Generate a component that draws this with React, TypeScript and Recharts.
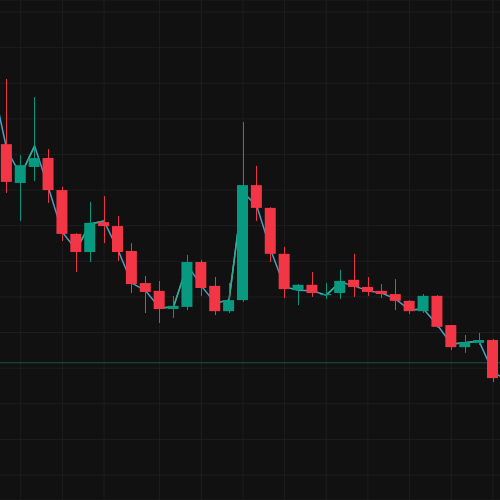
import React from "react";
import {
  ComposedChart,
  Bar,
  Line,
  XAxis,
  YAxis,
  CartesianGrid,
  ReferenceLine,
} from "recharts";

// one hidden slot on each side so the line runs off the edges
const slots = Array.from({ length: 38 }, (_, i) => `t${i}`);

// OHLC per candle (slot 1..36)
const opens = [19.29, 18.2, 18.65, 18.9, 18.0, 16.77, 16.26, 17.1, 16.99, 16.29, 15.39, 15.17, 14.66, 14.72, 15.98, 15.31, 14.6, 14.91, 18.14, 17.5, 16.21, 15.19, 15.34, 15.05, 15.11, 15.48, 15.28, 15.17, 15.08, 14.89, 14.6, 15.03, 14.21, 13.59, 13.71, 13.79];
const closes = [18.23, 18.7, 18.9, 18.0, 16.77, 16.26, 17.08, 16.99, 16.26, 15.36, 15.14, 14.66, 14.75, 15.98, 15.25, 14.6, 14.91, 18.14, 17.5, 16.21, 15.22, 15.34, 15.11, 15.08, 15.45, 15.28, 15.14, 15.08, 14.89, 14.6, 15.03, 14.16, 13.59, 13.73, 13.79, 12.72];
const highs = [21.12, 18.98, 20.61, 19.15, 18.09, 16.79, 17.67, 17.83, 17.27, 16.51, 15.59, 15.45, 15.03, 16.18, 16.04, 15.56, 15.39, 19.91, 18.68, 17.52, 16.4, 15.36, 15.7, 15.39, 15.76, 16.21, 15.56, 15.36, 15.5, 14.91, 15.08, 15.05, 14.21, 13.93, 13.99, 13.82];
const lows = [17.92, 17.13, 18.25, 17.64, 16.57, 15.7, 15.98, 16.51, 16.01, 15.11, 14.55, 14.27, 14.41, 14.63, 15.03, 14.49, 14.55, 14.86, 17.13, 15.98, 14.97, 14.77, 15.0, 14.94, 14.94, 15.0, 15.03, 14.97, 14.63, 14.52, 14.55, 14.13, 13.51, 13.43, 13.65, 12.61];

// price line, all 38 slots
const linePrices = [20.95, 19.13, 18.42, 19.24, 18.06, 16.82, 16.32, 17.05, 17.13, 16.32, 15.39, 15.17, 14.69, 14.72, 15.9, 15.31, 14.83, 14.91, 17.95, 17.55, 16.32, 15.28, 15.19, 15.17, 15.05, 15.42, 15.31, 15.17, 15.11, 14.94, 14.63, 14.66, 14.21, 13.68, 13.71, 13.76, 12.89, 12.67];

const priceTicks = [10, 11, 12, 13, 14, 15, 16, 17, 18, 19, 20, 21, 22, 23];
const gridSlots = ["t2", "t5", "t8", "t12", "t15", "t18", "t21", "t24", "t27", "t30", "t33", "t36"];
const basePrice = 13.15;

const RED = "#f23645";
const GREEN = "#089981";
const LINE_DOWN = "#4f9dc2";
const LINE_UP = "#35ab8c";

const data = slots.map((t, i) => {
  const row: any = { t, price: linePrices[i] };
  const k = i - 1;
  if (k >= 0 && k < opens.length) {
    row.open = opens[k];
    row.close = closes[k];
    row.high = highs[k];
    row.low = lows[k];
  }
  return row;
});

// rising stretches get their own colour, split in 3 series so they never join up
linePrices.forEach((p, i) => {
  if (i + 1 < linePrices.length && linePrices[i + 1] > p) {
    const key = `up${i % 3}`;
    data[i][key] = p;
    data[i + 1][key] = linePrices[i + 1];
  }
});

const Candle = (props: any) => {
  const { x, y, width, height, payload } = props;
  if (!payload || payload.open == null) return null;
  const { open, close, high, low } = payload;
  const color = close >= open ? GREEN : RED;
  const top = Math.min(y, y + height);
  const h = Math.abs(height);
  const ratio = h / (high - low);
  const bodyTop = top + (high - Math.max(open, close)) * ratio;
  const bodyH = Math.max(Math.abs(open - close) * ratio, 1);
  const cx = Math.round(x + width / 2) + 0.5;
  return (
    <g>
      <line x1={cx} x2={cx} y1={top} y2={top + h} stroke={color} strokeWidth={1} />
      <rect x={x} y={bodyTop} width={width} height={bodyH} fill={color} />
    </g>
  );
};

export default function App() {
  const band = 500 / 36;
  return (
    <div
      style={{
        position: "fixed",
        left: 0,
        top: 0,
        width: 500,
        height: 500,
        overflow: "hidden",
        background: "#111111",
      }}
    >
      <div style={{ position: "absolute", left: -band, top: 0 }}>
        <ComposedChart
          width={500 + band * 2}
          height={500}
          data={data}
          margin={{ top: 0, right: 0, bottom: 0, left: 0 }}
        >
          <CartesianGrid stroke="#1e1e1e" strokeWidth={1} />
          <XAxis dataKey="t" hide ticks={gridSlots} interval={0} />
          <YAxis
            hide
            type="number"
            domain={[9.298, 23.337]}
            ticks={priceTicks}
            allowDataOverflow
          />
          <ReferenceLine y={basePrice} stroke="#16564b" strokeWidth={1} />
          <Line
            dataKey="price"
            type="linear"
            stroke={LINE_DOWN}
            strokeWidth={1.5}
            dot={false}
            activeDot={false}
            isAnimationActive={false}
            zIndex={200}
          />
          {["up0", "up1", "up2"].map((k) => (
            <Line
              key={k}
              dataKey={k}
              type="linear"
              stroke={LINE_UP}
              strokeWidth={1.5}
              dot={false}
              activeDot={false}
              isAnimationActive={false}
              zIndex={210}
            />
          ))}
          <Bar
            dataKey={(d: any) => (d.open == null ? null : [d.low, d.high])}
            barSize={11}
            shape={<Candle />}
            isAnimationActive={false}
            zIndex={500}
          />
        </ComposedChart>
      </div>
    </div>
  );
}
